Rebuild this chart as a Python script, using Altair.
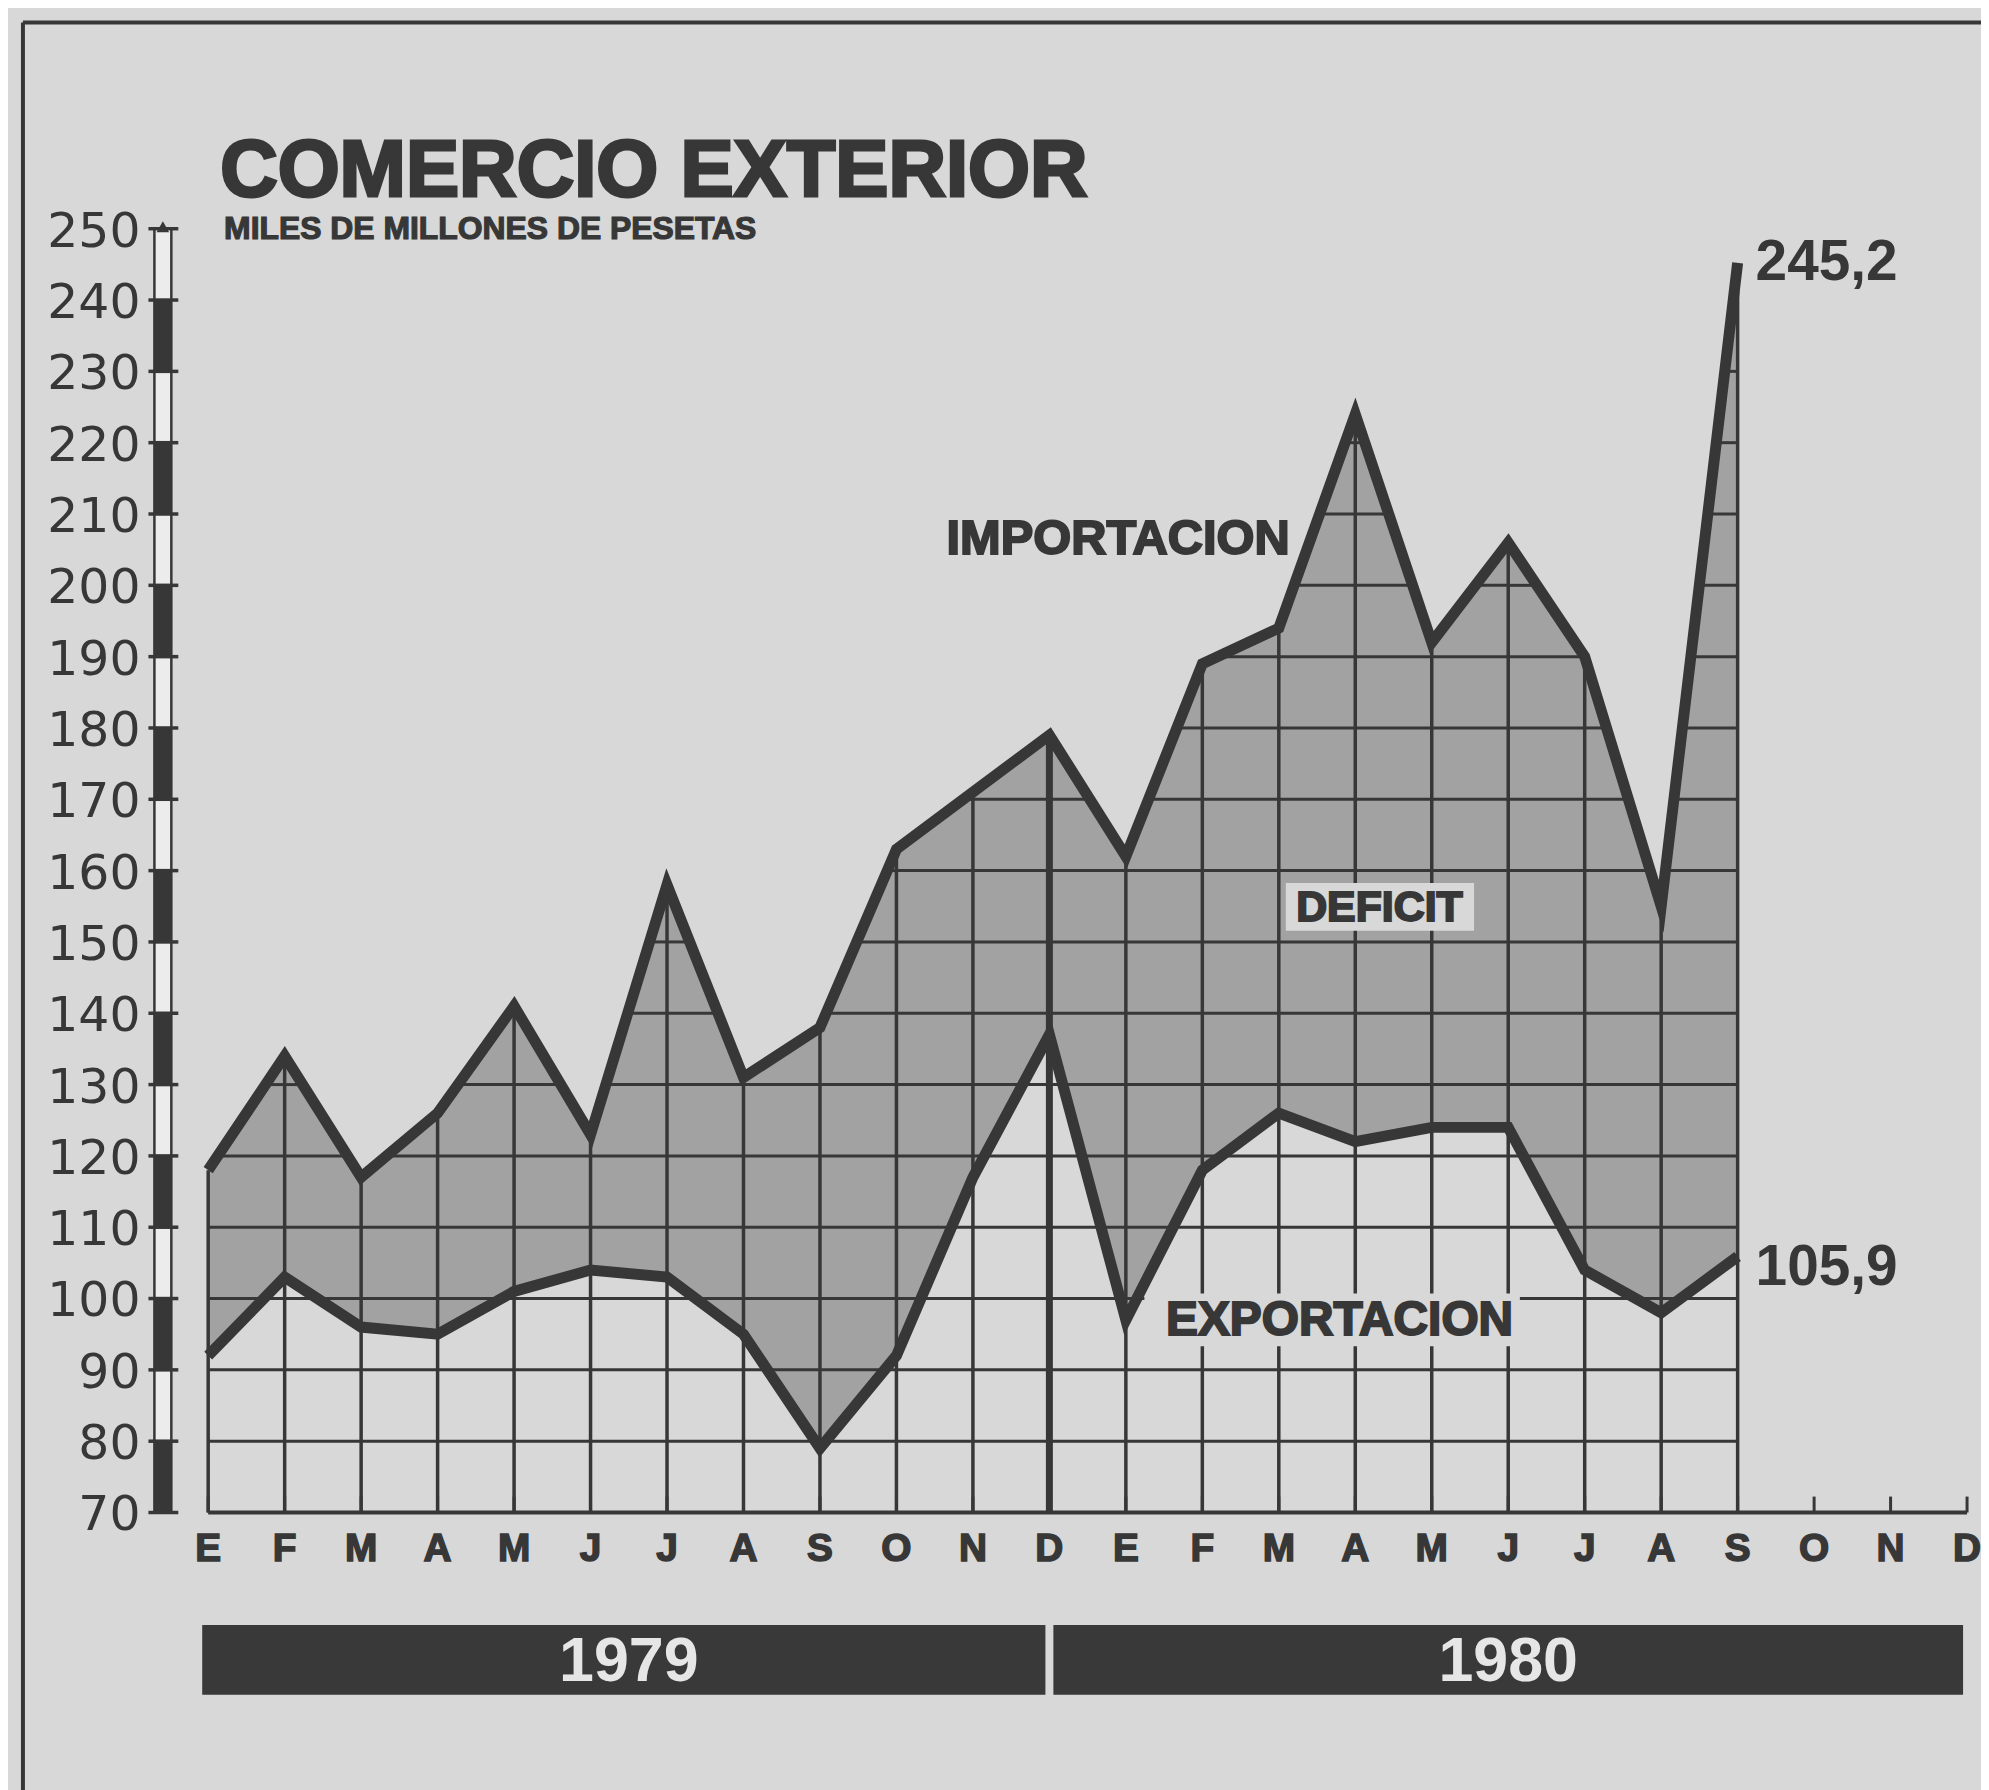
import altair as alt
import pandas as pd

# ---- data -------------------------------------------------------------
month_letters = ["E", "F", "M", "A", "M", "J", "J", "A", "S", "O", "N", "D"]
years = ["1979", "1980"]
year_first_idx = [0, 11]
year_last_idx = [11, 23]

# Jan 1979 .. Sep 1980 (miles de millones de pesetas)
importacion = [118, 134, 117, 126, 141, 123, 158, 131, 138, 163, 171, 179,
               162, 189, 194, 224, 192, 206, 190, 155, 245.2]
exportacion = [92, 103, 96, 95, 101, 104, 103, 95, 79, 92, 117, 137,
               97, 118, 126, 122, 124, 124, 104, 98, 105.9]

y_ticks = list(range(70, 251, 10))

title_text = "COMERCIO EXTERIOR"
subtitle_text = "MILES DE MILLONES DE PESETAS"

# ---- style ------------------------------------------------------------
BG = "#d8d8d8"
INK = "#373737"
HALF = "#a2a2a2"
W, H = 1766, 1289
LBL_FONT = "Liberation Sans"

n = len(importacion)
data = pd.DataFrame({"idx": list(range(n)), "imp": importacion, "exp": exportacion})
months = pd.DataFrame({"idx": list(range(2 * len(month_letters))),
                       "mes": month_letters * 2})
ticks = pd.DataFrame({"v": y_ticks})
segs = pd.DataFrame({"lo": y_ticks[:-1], "hi": y_ticks[1:]})
yrs = pd.DataFrame({"year": years, "start": year_first_idx, "end": year_last_idx})
one = pd.DataFrame({"k": [0]})
fmt = lambda v: f"{v:.1f}".replace(".", ",")
end_imp = pd.DataFrame({"idx": [n - 1], "v": [importacion[-1]], "txt": [fmt(importacion[-1])]})
end_exp = pd.DataFrame({"idx": [n - 1], "v": [exportacion[-1]], "txt": [fmt(exportacion[-1])]})

# horizontal grid lines, kept only below the import line
rows = []
for g in y_ticks[1:-1]:
    for i in range(n - 1):
        a, b = importacion[i], importacion[i + 1]
        if a >= g and b >= g:
            rows.append((g, i, i + 1))
        elif a >= g > b:
            rows.append((g, i, i + (a - g) / (a - b)))
        elif b >= g > a:
            rows.append((g, i + (g - a) / (b - a), i + 1))
hgrid = pd.DataFrame(rows, columns=["g", "x0", "x1"])

xs = alt.Scale(domain=[0, 23], nice=False, zero=False)
ys = alt.Scale(domain=[70, 250], nice=False, zero=False)
X = lambda f: alt.X(f, scale=xs, axis=None)
Y = lambda f: alt.Y(f, scale=ys, axis=None)

layers = []

# frame of the newspaper box
layers.append(alt.Chart(one).mark_rule(color=INK, strokeWidth=4).encode(
    x=alt.value(-186), y=alt.value(-207), y2=alt.value(H + 300)))
layers.append(alt.Chart(one).mark_rule(color=INK, strokeWidth=4).encode(
    x=alt.value(-186), x2=alt.value(W + 40), y=alt.value(-207)))

# deficit band: import area, then export area in paper colour on top
layers.append(alt.Chart(data).mark_area(color=HALF, orient="vertical", clip=True).encode(
    x=X("idx:Q"), y=Y("imp:Q")))
layers.append(alt.Chart(data).mark_area(color=BG, orient="vertical", clip=True).encode(
    x=X("idx:Q"), y=Y("exp:Q")))

# grid
layers.append(alt.Chart(hgrid).mark_rule(color=INK, strokeWidth=3).encode(
    x=X("x0:Q"), x2="x1:Q", y=Y("g:Q")))
layers.append(alt.Chart(data).transform_calculate(base="70").mark_rule(color=INK).encode(
    x=X("idx:Q"), y=Y("imp:Q"), y2="base:Q",
    strokeWidth=alt.condition(alt.datum.idx == 11, alt.value(7), alt.value(3.5))))

# label boxes
layers.append(alt.Chart(one).mark_rect(color=BG).encode(
    x=alt.value(1082), x2=alt.value(1271), y=alt.value(657), y2=alt.value(705)))
layers.append(alt.Chart(one).mark_rect(color=BG).encode(
    x=alt.value(940), x2=alt.value(1317), y=alt.value(1069), y2=alt.value(1122)))

# series lines
for col in ["imp", "exp"]:
    layers.append(alt.Chart(data).mark_line(
        color=INK, strokeWidth=11, strokeJoin="miter", strokeMiterLimit=20).encode(
        x=X("idx:Q"), y=Y(f"{col}:Q")))

# x axis baseline, ticks and labels
layers.append(alt.Chart(one).mark_rule(color=INK, strokeWidth=4).encode(
    x=alt.value(0), x2=alt.value(W), y=alt.value(H)))
layers.append(alt.Chart(months).mark_rule(color=INK, strokeWidth=3).encode(
    x=X("idx:Q"), y=alt.value(H - 16), y2=alt.value(H)))
layers.append(alt.Chart(months).mark_text(
    font=LBL_FONT, fontWeight="bold", fontSize=39, color=INK, stroke=INK, strokeWidth=1.5,
    baseline="middle").encode(
    x=X("idx:Q"), y=alt.value(H + 37), text="mes:N"))

# y scale bar
layers.append(alt.Chart(one).mark_rect(fill="#ececec", stroke=INK, strokeWidth=2.5).encode(
    x=alt.value(-54), x2=alt.value(-37), y=alt.value(0), y2=alt.value(H)))
layers.append(alt.Chart(segs).transform_calculate(
    k="((datum.lo - 70) / 10) % 2").transform_filter("datum.k == 0").mark_rect(
    color=INK).encode(x=alt.value(-54), x2=alt.value(-37), y=Y("lo:Q"), y2="hi:Q"))
layers.append(alt.Chart(ticks).mark_rule(color=INK, strokeWidth=3.5).encode(
    x=alt.value(-60), x2=alt.value(-30), y=Y("v:Q")))
layers.append(alt.Chart(one).mark_point(
    shape="triangle-up", filled=True, color=INK, size=160, opacity=1).encode(
    x=alt.value(-45.5), y=alt.value(-2)))
layers.append(alt.Chart(ticks).mark_text(
    font="DejaVu Sans", fontSize=49, color=INK, align="right", baseline="middle", dy=3).encode(
    x=alt.value(-68), y=Y("v:Q"), text="v:Q"))

# end-value annotations
layers.append(alt.Chart(end_imp).mark_text(
    font=LBL_FONT, fontWeight="bold", fontSize=57, color=INK, align="left",
    baseline="middle", dx=18).encode(x=X("idx:Q"), y=Y("v:Q"), text="txt:N"))
layers.append(alt.Chart(end_exp).mark_text(
    font=LBL_FONT, fontWeight="bold", fontSize=57, color=INK, align="left",
    baseline="middle", dx=18, dy=12).encode(x=X("idx:Q"), y=Y("v:Q"), text="txt:N"))

# series labels
heavy = dict(font=LBL_FONT, fontWeight="bold", color=INK, stroke=INK, strokeWidth=2)
layers.append(alt.Chart(one).mark_text(
    text="IMPORTACION", fontSize=49, align="right", baseline="alphabetic", **heavy).encode(
    x=alt.value(1086), y=alt.value(327)))
layers.append(alt.Chart(one).mark_text(
    text="DEFICIT", fontSize=43, align="center", baseline="middle", **heavy).encode(
    x=alt.value(1176), y=alt.value(682)))
layers.append(alt.Chart(one).mark_text(
    text="EXPORTACION", fontSize=48, align="center", baseline="middle", **heavy).encode(
    x=alt.value(1136), y=alt.value(1097)))

# year bars
for i, (xo, x2o) in enumerate([(-6, -4), (4, -4)]):
    base = alt.Chart(yrs).transform_filter(alt.datum.year == years[i])
    layers.append(base.mark_rect(color="#393939", xOffset=xo, x2Offset=x2o).encode(
        x=X("start:Q"), x2="end:Q", y=alt.value(1402), y2=alt.value(1472)))
layers.append(alt.Chart(yrs).transform_calculate(mid="(datum.start + datum.end) / 2").mark_text(
    font=LBL_FONT, fontWeight="bold", fontSize=63, color="#e6e6e6", baseline="middle").encode(
    x=X("mid:Q"), y=alt.value(1439), text="year:N"))

# title
layers.append(alt.Chart(one).mark_text(
    text=title_text, fontSize=80, align="left", baseline="alphabetic",
    **{**heavy, "strokeWidth": 3}).encode(x=alt.value(12), y=alt.value(-33)))
layers.append(alt.Chart(one).mark_text(
    text=subtitle_text, fontSize=32, align="left", baseline="alphabetic",
    **{**heavy, "strokeWidth": 1.2}).encode(x=alt.value(16), y=alt.value(10)))

chart = alt.layer(*layers).properties(
    width=W, height=H,
    autosize=alt.AutoSizeParams(type="none"),
    padding={"left": 201, "top": 218, "right": 14, "bottom": 275},
    background=BG,
).configure_view(stroke=None)

chart.save("out.html", embed_options={"renderer": "svg", "actions": False})
